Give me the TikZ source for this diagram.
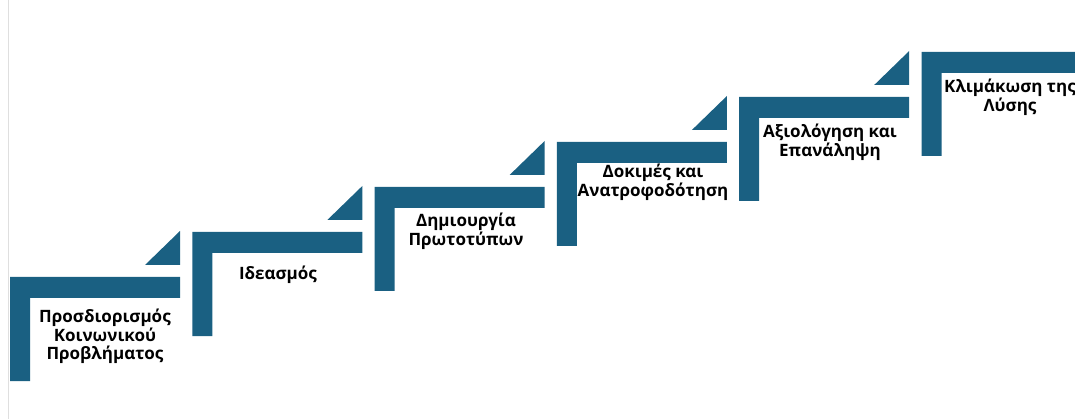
\documentclass[tikz,border=0pt]{standalone}
\usepackage{fontspec}
\setmainfont{Open Sans}
\definecolor{stepblue}{HTML}{1A6082}
\tikzset{
    stepbar/.style={fill=stepblue},
    steplabel/.style={font=\bfseries\fontsize{17}{18.5}\selectfont, align=center, inner sep=0pt, anchor=north},
}
\begin{document}
\begin{tikzpicture}[x=1pt, y=-1pt]
    \useasboundingbox (0,0) rectangle (1075,419);
    \clip (0,0) rectangle (1075,419);

    % Left border line
    \draw[gray!25, line width=1pt] (8,0) -- (8,419);

    % Steps: L-shaped bar and small triangle
    \foreach \i in {0,...,5} {
        \begin{scope}[shift={(10+182.3*\i, 277-45*\i)}]
            \fill[stepbar] (0,0) -- (170,0) -- (170,21) -- (20,21) -- (20,104) -- (0,104) -- cycle;
            \ifnum\i<5
                \fill[stepbar] (135,-12) -- (170,-12) -- (170,-46) -- cycle;
            \fi
        \end{scope}
    }

    % Labels
    \node[steplabel] (problem) at (105,309) {Προσδιορισμός\\Κοινωνικού\\Προβλήματος};
    \node[steplabel] (ideation) at (278,266) {Ιδεασμός};
    \node[steplabel] (prototype) at (466,213) {Δημιουργία\\Πρωτοτύπων};
    \node[steplabel] (testing) at (653,164) {Δοκιμές και\\Ανατροφοδότηση};
    \node[steplabel] (evaluation) at (830,124) {Αξιολόγηση και\\Επανάληψη};
    \node[steplabel] (scaling) at (1010,79) {Κλιμάκωση της\\Λύσης};
\end{tikzpicture}
\end{document}
